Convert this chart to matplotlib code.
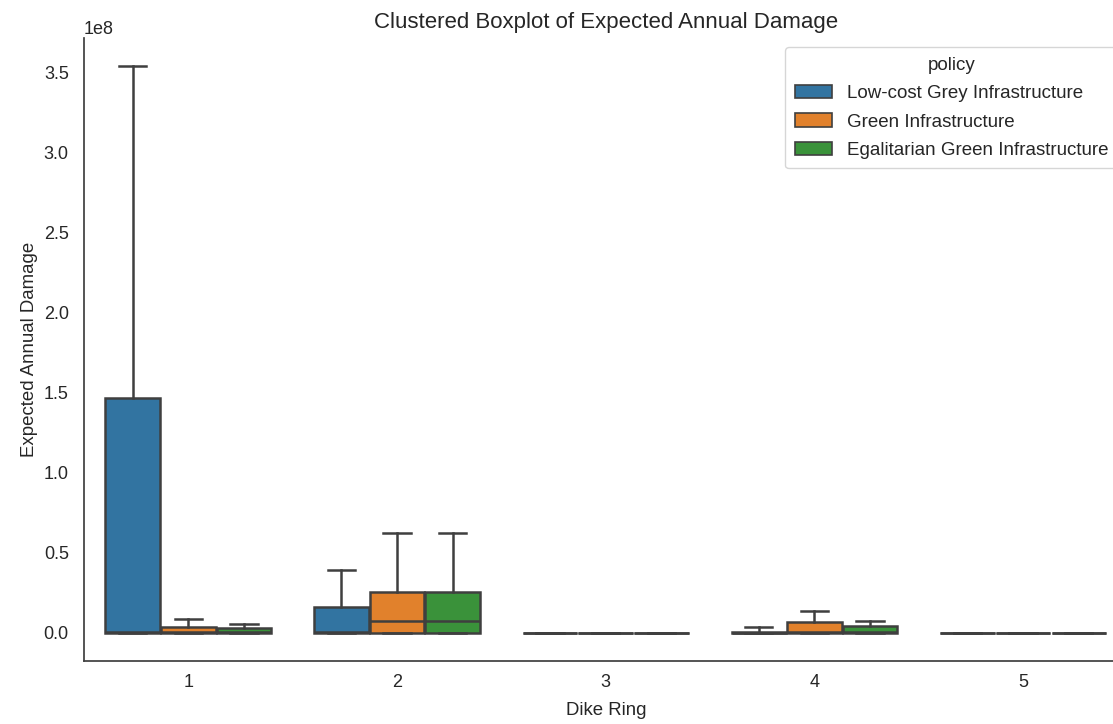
import numpy as np
import matplotlib
matplotlib.use("Agg")
import matplotlib.pyplot as plt
from matplotlib.patches import Patch

# Box summary per dike ring, one list per policy (values in EUR)
rings = ["1", "2", "3", "4", "5"]
policies = ["Low-cost Grey Infrastructure", "Green Infrastructure",
            "Egalitarian Green Infrastructure"]
colors = ["#3274a1", "#e1812c", "#3a923a"]

whislo = {
    "Low-cost Grey Infrastructure": [0, 0, 0, 0, 0],
    "Green Infrastructure": [0, 0, 0, 0, 0],
    "Egalitarian Green Infrastructure": [0, 0, 0, 0, 0],
}
q1 = {
    "Low-cost Grey Infrastructure": [0, 0, 0, 0, 0],
    "Green Infrastructure": [0, 0, 0, 0, 0],
    "Egalitarian Green Infrastructure": [0, 0, 0, 0, 0],
}
med = {
    "Low-cost Grey Infrastructure": [0.3e6, 0.5e6, 0, 0.1e6, 0],
    "Green Infrastructure": [0.2e6, 7.2e6, 0, 0.2e6, 0],
    "Egalitarian Green Infrastructure": [0.2e6, 7.2e6, 0, 0.2e6, 0],
}
q3 = {
    "Low-cost Grey Infrastructure": [146.6e6, 16.1e6, 0, 0.5e6, 0],
    "Green Infrastructure": [3.6e6, 25.5e6, 0, 6.4e6, 0],
    "Egalitarian Green Infrastructure": [3.0e6, 25.5e6, 0, 3.9e6, 0],
}
whishi = {
    "Low-cost Grey Infrastructure": [354e6, 39e6, 0, 3.3e6, 0],
    "Green Infrastructure": [8.6e6, 62.4e6, 0, 13.6e6, 0],
    "Egalitarian Green Infrastructure": [5.3e6, 62.4e6, 0, 7.0e6, 0],
}

plt.rcParams["font.family"] = ["Liberation Sans", "DejaVu Sans"]
text_col = "#262626"
edge_col = "#3f3f3f"

fig = plt.figure(figsize=(11.13, 7.24), dpi=100)
ax = fig.add_axes([0.0755, 0.087, 0.9375, 0.8605])

group_width = 0.8
n = len(policies)
each = group_width / n
for i, pol in enumerate(policies):
    offset = (i - (n - 1) / 2) * each
    stats = []
    for j in range(len(rings)):
        stats.append({
            "whislo": whislo[pol][j], "q1": q1[pol][j], "med": med[pol][j],
            "q3": q3[pol][j], "whishi": whishi[pol][j], "fliers": [],
        })
    pos = np.arange(len(rings)) + offset
    ax.bxp(stats, positions=pos, widths=each * 0.98, patch_artist=True,
           showfliers=False, manage_ticks=False,
           boxprops=dict(facecolor=colors[i], edgecolor=edge_col, linewidth=1.8),
           medianprops=dict(color=edge_col, linewidth=1.8),
           whiskerprops=dict(color=edge_col, linewidth=1.8),
           capprops=dict(color=edge_col, linewidth=1.8))

ax.set_xticks(np.arange(len(rings)))
ax.set_xticklabels(rings)
ax.set_xlim(-0.5, len(rings) - 0.5)
ax.margins(y=0.05)

ax.set_xlabel("Dike Ring", fontsize=13.4, color=text_col, labelpad=8)
ax.set_ylabel("Expected Annual Damage", fontsize=13.4, color=text_col)
ax.set_title("Clustered Boxplot of Expected Annual Damage", fontsize=16,
             color=text_col, pad=7)
ax.tick_params(axis="both", length=0, labelsize=13, labelcolor=text_col)
ax.tick_params(axis="x", pad=9)
ax.tick_params(axis="y", pad=11)
ax.yaxis.get_offset_text().set_fontsize(13)
ax.yaxis.get_offset_text().set_color(text_col)

for side in ["top", "right"]:
    ax.spines[side].set_visible(False)
for side in ["left", "bottom"]:
    ax.spines[side].set_color(edge_col)
    ax.spines[side].set_linewidth(1.25)

handles = [Patch(facecolor=c, edgecolor=edge_col, linewidth=1.2) for c in colors]
leg = ax.legend(handles, policies, title="policy", loc="upper right",
                fontsize=13.5, title_fontsize=13.5, labelcolor=text_col,
                labelspacing=0.6, borderpad=0.5)
leg.get_title().set_color(text_col)

fig.savefig("out.png", dpi=100)
